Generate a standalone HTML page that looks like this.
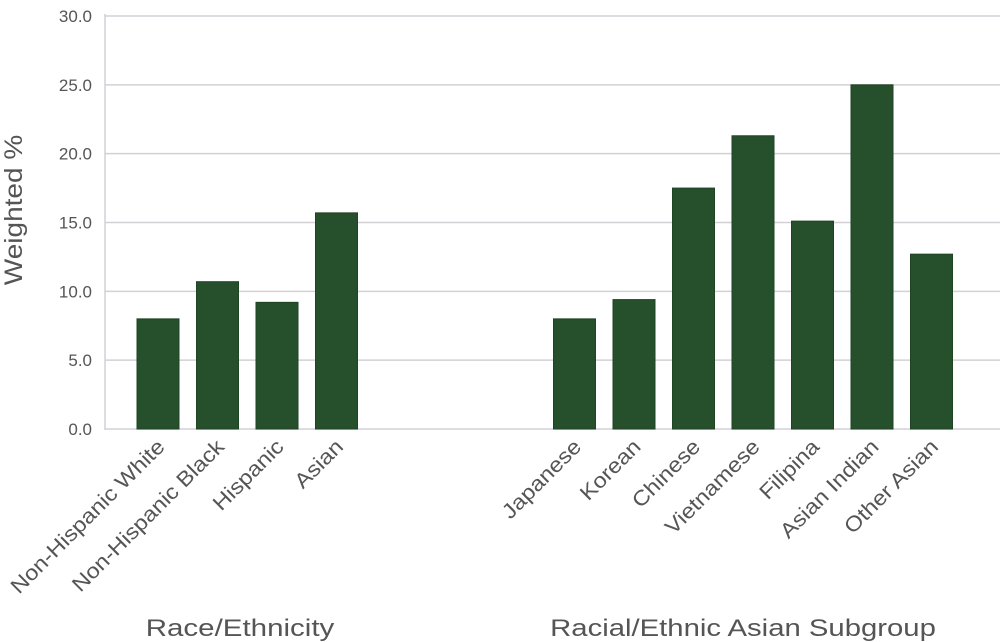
<!DOCTYPE html>
<html><head><meta charset="utf-8"><style>
html,body{margin:0;padding:0;background:#fff;}
svg{display:block;font-family:"Liberation Sans",sans-serif;}
</style></head><body>
<svg id="chart" width="1000" height="642" viewBox="0 0 1000 642">
<g id="grid"></g>
<g id="yticks"></g>
<g id="bars"></g>
<g id="xlabels"></g>
<text transform="translate(22,210) rotate(-90) scale(1.12,1)" text-anchor="middle" font-size="25" fill="#555">Weighted %</text>
<text transform="translate(240,636) scale(1.23,1)" text-anchor="middle" font-size="24" fill="#555">Race/Ethnicity</text>
<text transform="translate(743,636) scale(1.22,1)" text-anchor="middle" font-size="24" fill="#555">Racial/Ethnic Asian Subgroup</text>
</svg>
<script>
const categories = ["Non-Hispanic White","Non-Hispanic Black","Hispanic","Asian","Japanese","Korean","Chinese","Vietnamese","Filipina","Asian Indian","Other Asian"];
const slots = [0,1,2,3,7,8,9,10,11,12,13];
const values = [8.0,10.7,9.2,15.7,8.0,9.4,17.5,21.3,15.1,25.0,12.7];
const yTicks = [0,5,10,15,20,25,30];
const yTickLabels = ["0.0","5.0","10.0","15.0","20.0","25.0","30.0"];

const NS="http://www.w3.org/2000/svg";
const y0=429, y30=16, xLeft=105, xRight=1000;
function yScale(v){return y0-(v/30)*(y0-y30);}
function xCenter(s){return 158+s*59.5;}
const bw=42;
function mk(tag,attrs,parent){const e=document.createElementNS(NS,tag);for(const k in attrs)e.setAttribute(k,attrs[k]);parent.appendChild(e);return e;}
const grid=document.getElementById('grid'),yt=document.getElementById('yticks'),bars=document.getElementById('bars'),xl=document.getElementById('xlabels');
yTicks.forEach((t,i)=>{
  const y=yScale(t);
  const l=mk('line',{x1:xLeft,x2:xRight,y1:y,y2:y,stroke:'#d3d0d6','stroke-width':1.5},grid);
  
  
  const tx=mk('text',{x:92,y:y+6,'text-anchor':'end','font-size':17,fill:'#555'},yt);
  tx.textContent=yTickLabels[i];
  
  
});
const ax=mk('line',{x1:xLeft,x2:xLeft,y1:y30-2,y2:y0+1,stroke:'#d3d0d6','stroke-width':1.5},grid);


values.forEach((v,i)=>{
  const cx=xCenter(slots[i]);
  const r=mk('rect',{x:cx-bw/2,y:yScale(v),width:bw,height:yScale(0)-yScale(v),fill:'#264f2c',stroke:'#1e4424','stroke-width':1},bars);
  
  
  const t=mk('text',{transform:`translate(${cx+8},448) rotate(-45) scale(1.12,1)`,'text-anchor':'end','font-size':21,fill:'#555'},xl);
  t.textContent=categories[i];
  
  
});
</script>
</body></html>
